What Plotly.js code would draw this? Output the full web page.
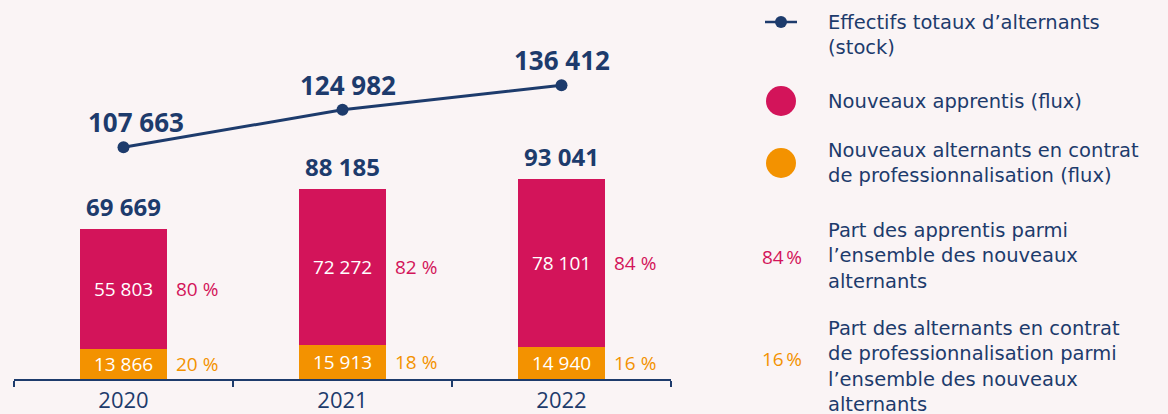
<!DOCTYPE html>
<html>
<head>
<meta charset="utf-8">
<script src="https://cdn.plot.ly/plotly-3.0.1.min.js"></script>
<style>
html,body{margin:0;padding:0;background:#faf4f5;}
#chart{width:1168px;height:414px;}
</style>
</head>
<body>
<div id="chart"></div>
<script>
// ---- Data ----
const years = ['2020', '2021', '2022'];
const apprentis = [55803, 72272, 78101];          // Nouveaux apprentis (flux)
const professionnalisation = [13866, 15913, 14940]; // Nouveaux contrats de pro (flux)
const totalNouveaux = [69669, 88185, 93041];
const stockTotal = [107663, 124982, 136412];       // Effectifs totaux d'alternants (stock)
const partApprentis = [80, 82, 84];
const partPro = [20, 18, 16];

const legendLabels = [
  'Effectifs totaux d’alternants<br>(stock)',
  'Nouveaux apprentis (flux)',
  'Nouveaux alternants en contrat<br>de professionnalisation (flux)',
  'Part des apprentis parmi<br>l’ensemble des nouveaux<br>alternants',
  'Part des alternants en contrat<br>de professionnalisation parmi<br>l’ensemble des nouveaux<br>alternants'
];
const legendPct = ['84\u202F%', '16\u202F%'];

// ---- Styles ----
const NAVY = '#1d3b6c';
const CRIMSON = '#d3145a';
const ORANGE = '#f39200';
const BG = '#faf4f5';
const FONT = 'Open Sans, sans-serif';
const LEGFONT = 'DejaVu Sans, sans-serif';
const stockLabelShift = [12, 5, 0]; // horizontal nudge of stock labels (px)

const fmt = v => String(v).replace(/\B(?=(\d{3})+(?!\d))/g, ' ');

// plot-area geometry (px) for legend placement in paper coords
const L = 14, PW = 657, PB = 379, PH = 379;
const px = x => (x - L) / PW;
const py = y => (PB - y) / PH;

const traces = [
  {
    type: 'bar', x: years, y: professionnalisation, width: 0.4,
    marker: {color: ORANGE},
    text: professionnalisation.map(fmt), textposition: 'inside', insidetextanchor: 'middle',
    textfont: {color: '#ffffff', size: 19, family: FONT}, constraintext: 'none',
    hoverinfo: 'skip'
  },
  {
    type: 'bar', x: years, y: apprentis, width: 0.4,
    marker: {color: CRIMSON},
    text: apprentis.map(fmt), textposition: 'inside', insidetextanchor: 'middle',
    textfont: {color: '#ffffff', size: 19, family: FONT}, constraintext: 'none',
    hoverinfo: 'skip'
  },
  {
    type: 'scatter', mode: 'lines+markers', x: years, y: stockTotal,
    line: {color: NAVY, width: 3}, marker: {color: NAVY, size: 12},
    hoverinfo: 'skip'
  }
];

const annotations = [];
years.forEach((yr, i) => {
  annotations.push({x: i, y: stockTotal[i], xref: 'x', yref: 'y', text: '<b>' + fmt(stockTotal[i]) + '</b>',
    showarrow: false, yanchor: 'bottom', yshift: 5, xshift: stockLabelShift[i], font: {size: 26, color: NAVY, family: FONT}});
  annotations.push({x: i, y: totalNouveaux[i], xref: 'x', yref: 'y', text: '<b>' + fmt(totalNouveaux[i]) + '</b>',
    showarrow: false, yanchor: 'bottom', yshift: 4, font: {size: 24, color: NAVY, family: FONT}});
  annotations.push({x: i + 0.2, y: professionnalisation[i] + apprentis[i] / 2, xref: 'x', yref: 'y',
    text: partApprentis[i] + ' %', showarrow: false, xanchor: 'left', xshift: 7,
    font: {size: 19, color: CRIMSON, family: FONT}});
  annotations.push({x: i + 0.2, y: professionnalisation[i] / 2, xref: 'x', yref: 'y',
    text: partPro[i] + ' %', showarrow: false, xanchor: 'left', xshift: 7,
    font: {size: 19, color: ORANGE, family: FONT}});
});

// legend texts
const legY = [34.5, 101, 163, 255.5, 366];
legendLabels.forEach((t, k) => {
  annotations.push({x: px(826), y: py(legY[k]), xref: 'paper', yref: 'paper', text: t, showarrow: false,
    xanchor: 'left', yanchor: 'middle', align: 'left', font: {size: 19.5, color: NAVY, family: LEGFONT}});
});
annotations.push({x: px(760), y: py(257), xref: 'paper', yref: 'paper', text: legendPct[0], showarrow: false,
  xanchor: 'left', yanchor: 'middle', font: {size: 19, color: CRIMSON, family: FONT}});
annotations.push({x: px(760), y: py(359), xref: 'paper', yref: 'paper', text: legendPct[1], showarrow: false,
  xanchor: 'left', yanchor: 'middle', font: {size: 19, color: ORANGE, family: FONT}});

const r = 15, rm = 6;
const shapes = [
  {type: 'line', xref: 'paper', yref: 'paper', x0: px(765), x1: px(797), y0: py(22), y1: py(22), line: {color: NAVY, width: 2.5}},
  {type: 'circle', xref: 'paper', yref: 'paper', x0: px(781 - rm), x1: px(781 + rm), y0: py(22 + rm), y1: py(22 - rm), fillcolor: NAVY, line: {width: 0}},
  {type: 'circle', xref: 'paper', yref: 'paper', x0: px(781 - r), x1: px(781 + r), y0: py(101 + r), y1: py(101 - r), fillcolor: CRIMSON, line: {width: 0}},
  {type: 'circle', xref: 'paper', yref: 'paper', x0: px(781 - r), x1: px(781 + r), y0: py(163 + r), y1: py(163 - r), fillcolor: ORANGE, line: {width: 0}}
];

const layout = {
  width: 1168, height: 414,
  margin: {l: L, r: 1168 - L - PW, t: 0, b: 414 - PB},
  paper_bgcolor: BG, plot_bgcolor: BG,
  barmode: 'stack', showlegend: false,
  font: {family: FONT, color: NAVY},
  xaxis: {type: 'category', range: [-0.5, 2.5], tickson: 'boundaries', ticks: 'outside', ticklen: 6,
    tickcolor: NAVY, tickwidth: 1.5, showline: true, linecolor: NAVY, linewidth: 1.5, showgrid: false,
    ticklabelstandoff: 1,
    tickfont: {size: 22, color: NAVY, family: FONT}, fixedrange: true},
  yaxis: {range: [0, 176000], visible: false, showgrid: false, zeroline: false, fixedrange: true},
  annotations: annotations,
  shapes: shapes
};

Plotly.newPlot('chart', traces, layout, {displayModeBar: false, staticPlot: true});
</script>
</body>
</html>
